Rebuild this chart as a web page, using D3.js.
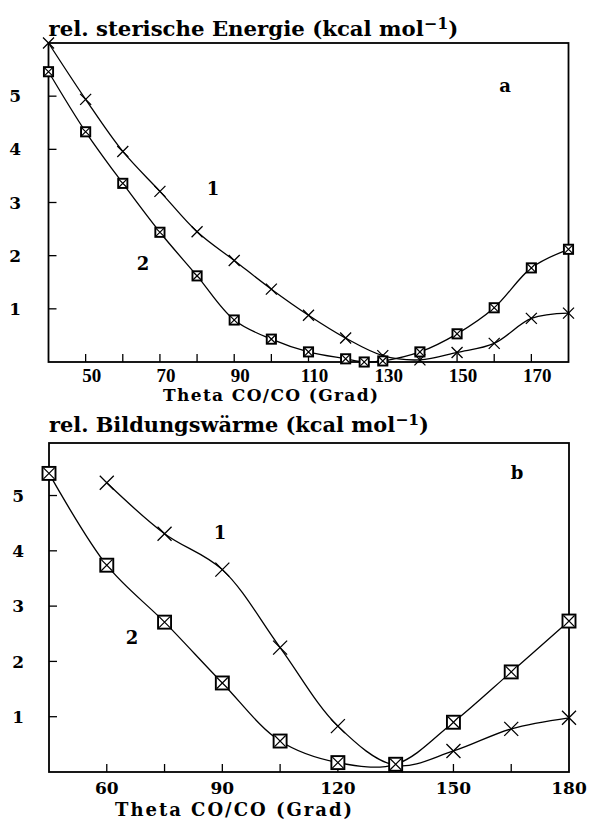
<!DOCTYPE html>
<html><head><meta charset="utf-8">
<script src="https://cdn.jsdelivr.net/npm/d3@7"></script>
<style>
html,body{margin:0;padding:0;background:#fff;}
svg{display:block;}
text{fill:#000;}
</style></head>
<body>
<svg id="c" width="589" height="821"></svg>
<script>
// ---------- DATA ----------
// Panel a: rel. sterische Energie
const thetaA1 = [40,50,60,70,80,90,100,110,120,130,140,150,160,170,180];
const energyA1 = [6.0,4.94,3.96,3.21,2.45,1.91,1.37,0.88,0.45,0.12,0.04,0.18,0.35,0.82,0.92];
const thetaA2 = [40,50,60,70,80,90,100,110,120,125,130,140,150,160,170,180];
const energyA2 = [5.46,4.33,3.36,2.44,1.62,0.79,0.43,0.19,0.06,0.0,0.02,0.19,0.53,1.02,1.77,2.12];
const xTicksA = [50,60,70,80,90,100,110,120,130,140,150,160,170];
const xLabelsA = [50,70,90,110,130,150,170];
// Panel b: rel. Bildungswärme
const thetaB1 = [60,75,90,105,120,135,150,165,180];
const heatB1 = [5.23,4.31,3.66,2.25,0.83,0.12,0.38,0.78,0.98];
const thetaB2 = [45,60,75,90,105,120,135,150,165,180];
const heatB2 = [5.40,3.74,2.71,1.61,0.56,0.17,0.14,0.90,1.81,2.73];
const xTicksB = [60,75,90,105,120,135,150,165];
const xLabelsB = [60,90,120,150,180];
const yTicks = [1,2,3,4,5];

const titleA = "rel. sterische Energie (kcal mol";
const titleB = "rel. Bildungswärme (kcal mol";
const xTitle = "Theta CO/CO (Grad)";

// ---------- DRAW ----------
const svg = d3.select("#c");
const SERIF = "'DejaVu Serif', serif";
const TIMES = "'Liberation Serif', serif";

function fitText(t, w){
  const len = t.node().getComputedTextLength();
  const fs = parseFloat(t.attr("font-size"));
  t.attr("font-size", (fs*w/len).toFixed(2));
}
function spaceText(t, w){
  const len = t.node().getComputedTextLength();
  const n = t.text().length;
  t.attr("letter-spacing", ((w-len)/(n-1)).toFixed(2));
}

function panel(cfg){
  const g = svg.append("g");
  const x = d3.scaleLinear().domain(cfg.xDomain).range(cfg.xRange);
  const y = d3.scaleLinear().domain(cfg.yDomain).range(cfg.yRange);
  const [x0,x1] = cfg.xRange, [y0,y1] = cfg.yRange;

  // ticks (inside)
  const tl = cfg.tickLen;
  g.append("g").selectAll("line").data(cfg.xTicks).join("line")
    .attr("x1", d=>x(d)).attr("x2", d=>x(d)).attr("y1", y0).attr("y2", y0-tl)
    .attr("stroke","#000").attr("stroke-width",1.3);
  g.append("g").selectAll("line").data(yTicks).join("line")
    .attr("x1", x0).attr("x2", x0+tl).attr("y1", d=>y(d)).attr("y2", d=>y(d))
    .attr("stroke","#000").attr("stroke-width",1.3);

  // frame
  g.append("rect").attr("x",x0).attr("y",y1).attr("width",x1-x0).attr("height",y0-y1)
    .attr("fill","none").attr("stroke","#000").attr("stroke-width",1.8);

  // tick labels
  g.append("g").selectAll("text").data(cfg.xLabels).join("text")
    .attr("x", d=>x(d)+cfg.xLabelDx).attr("y", y0+cfg.xLabelDy)
    .attr("text-anchor","middle").attr("font-family",cfg.xLabelFont)
    .attr("font-weight","bold").attr("font-size",cfg.xLabelSize).text(d=>d);
  g.append("g").selectAll("text").data(yTicks).join("text")
    .attr("x", cfg.yLabelX).attr("y", d=>y(d)).attr("dy","0.36em")
    .attr("text-anchor","end").attr("font-family",SERIF)
    .attr("font-weight","bold").attr("font-size",cfg.yLabelSize).text(d=>d);

  // curves
  const line = d3.line().x(d=>x(d[0])).y(d=>y(d[1])).curve(d3.curveCatmullRom.alpha(0.5));
  cfg.series.forEach(s=>{
    const pts = s.xs.map((v,i)=>[v,s.ys[i]]);
    g.append("path").attr("d", line(pts)).attr("fill","none")
      .attr("stroke","#000").attr("stroke-width",1.3);
  });
  // markers
  cfg.series.forEach(s=>{
    const pts = s.xs.map((v,i)=>[v,s.ys[i]]);
    const m = g.append("g").selectAll("g").data(pts).join("g")
      .attr("transform", d=>`translate(${x(d[0])},${y(d[1])})`);
    const h = s.type==="x" ? cfg.xMark : cfg.sqMark;
    if(s.type==="sq"){
      m.append("rect").attr("x",-h).attr("y",-h).attr("width",2*h).attr("height",2*h)
        .attr("fill","#fff").attr("stroke","#000").attr("stroke-width",1.9);
      const k = h*0.85;
      m.append("path").attr("d",`M${-k},${-k}L${k},${k}M${-k},${k}L${k},${-k}`)
        .attr("stroke","#000").attr("stroke-width",1.2);
    } else {
      m.append("path").attr("d",`M${-h},${-h}L${h},${h}M${-h},${h}L${h},${-h}`)
        .attr("stroke","#000").attr("stroke-width",1.3);
    }
  });

  // titles
  const t = g.append("text").attr("x", x0).attr("y", cfg.titleY)
    .attr("font-family",SERIF).attr("font-weight","bold").attr("font-size",16);
  t.append("tspan").text(cfg.title);
  t.append("tspan").attr("dy",-7).attr("font-size","0.75em").text("\u22121");
  t.append("tspan").attr("dy",7).text(")");
  fitText(t, cfg.titleW);

  const xt = g.append("text").attr("x", cfg.xTitleX).attr("y", cfg.xTitleY)
    .attr("font-family",SERIF).attr("font-weight","bold").attr("font-size",cfg.xTitleSize).text(xTitle);
  spaceText(xt, cfg.xTitleW);

  // curve labels
  cfg.notes.forEach(n=>{
    g.append("text").attr("x",n.x).attr("y",n.y).attr("dy","0.36em")
      .attr("text-anchor","middle").attr("font-family",SERIF).attr("font-weight","bold")
      .attr("font-size",cfg.noteSize).text(n.t);
  });
}

panel({
  xDomain:[40,180], xRange:[48.5,568.5], yDomain:[0,6], yRange:[362,43],
  tickLen:8, xTicks:xTicksA, xLabels:xLabelsA, xLabelDx:6, xLabelDy:20,
  xLabelFont:TIMES, xLabelSize:19, yLabelX:21, yLabelSize:17,
  series:[{xs:thetaA1, ys:energyA1, type:"x"},{xs:thetaA2, ys:energyA2, type:"sq"}],
  xMark:5.5, sqMark:4.6,
  title:titleA, titleY:36, titleW:410,
  xTitleX:163, xTitleY:401, xTitleW:215, xTitleSize:17,
  notes:[{x:213,y:189,t:"1"},{x:143,y:264,t:"2"},{x:505,y:86,t:"a"}], noteSize:18
});

panel({
  xDomain:[45,180], xRange:[49,569], yDomain:[0,5.95], yRange:[772,443],
  tickLen:8, xTicks:xTicksB, xLabels:xLabelsB, xLabelDx:0, xLabelDy:22,
  xLabelFont:SERIF, xLabelSize:17, yLabelX:24, yLabelSize:17,
  series:[{xs:thetaB1, ys:heatB1, type:"x"},{xs:thetaB2, ys:heatB2, type:"sq"}],
  xMark:7, sqMark:6.5,
  title:titleB, titleY:432, titleW:380,
  xTitleX:115, xTitleY:816, xTitleW:237, xTitleSize:18,
  notes:[{x:220,y:533,t:"1"},{x:132,y:638,t:"2"},{x:517,y:473,t:"b"}], noteSize:18
});
</script>
</body></html>
